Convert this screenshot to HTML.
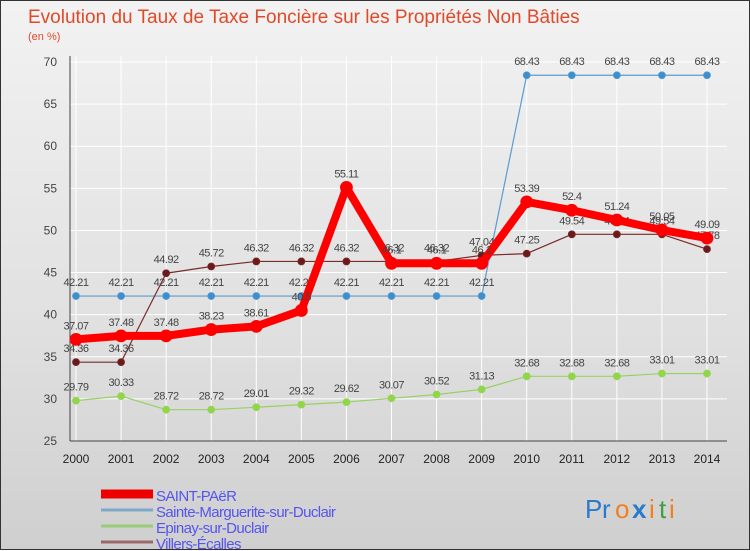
<!DOCTYPE html>
<html><head><meta charset="utf-8">
<style>
body{margin:0;width:750px;height:550px;overflow:hidden;font-family:"Liberation Sans",sans-serif;}
#wrap{position:relative;width:748px;height:548px;border:1px solid #333;background:linear-gradient(#f2f2f2,#e0e0e0 60%,#cfcfcf);}
svg{position:absolute;left:0;top:0}
</style></head><body>
<div id="wrap">
<svg id="chart" width="750" height="550"></svg>
</div>
<script>
const years=[2000,2001,2002,2003,2004,2005,2006,2007,2008,2009,2010,2011,2012,2013,2014];
const yTicks=[25,30,35,40,45,50,55,60,65,70];
const saintPaer=[37.07,37.48,37.48,38.23,38.61,40.5,55.11,46.1,46.1,46.1,53.39,52.4,51.24,50.05,49.09];
const marguerite=[42.21,42.21,42.21,42.21,42.21,42.21,42.21,42.21,42.21,42.21,68.43,68.43,68.43,68.43,68.43];
const epinay=[29.79,30.33,28.72,28.72,29.01,29.32,29.62,30.07,30.52,31.13,32.68,32.68,32.68,33.01,33.01];
const villers=[34.36,34.36,44.92,45.72,46.32,46.32,46.32,46.32,46.32,47.04,47.25,49.54,49.54,49.54,47.78];
const seriesNames=["SAINT-PAëR","Sainte-Marguerite-sur-Duclair","Epinay-sur-Duclair","Villers-Écalles"];

const svg=document.getElementById('chart');
const NS='http://www.w3.org/2000/svg';
const x0=75,x1=706,yTop=61,yBot=440,vMin=25,vMax=70;
const X=i=>x0+(x1-x0)*i/(years.length-1);
const Y=v=>yBot-(v-vMin)*(yBot-yTop)/(vMax-vMin);
function mk(t,a,txt){const e=document.createElementNS(NS,t);for(const k in a)e.setAttribute(k,a[k]);if(txt!==undefined)e.textContent=txt;svg.appendChild(e);return e;}

let e;
e=mk('text',{x:27,y:22,'font-size':19,fill:'#e04a2a'},'Evolution du Taux de Taxe Foncière sur les Propriétés Non Bâties');


e=mk('text',{x:27,y:39,'font-size':11,fill:'#e04a2a'},'(en %)');



yTicks.forEach(t=>{
  e=mk('line',{x1:x0-6,x2:x1+20,y1:Y(t),y2:Y(t),stroke:'#fff','stroke-width':1});
  
  
  e=mk('text',{x:56,y:Y(t)+4,'font-size':12,fill:'#444','text-anchor':'end'},t);
  
  
});
years.forEach((yr,i)=>{
  e=mk('line',{x1:X(i),x2:X(i),y1:yTop-6,y2:yBot,stroke:'#fff','stroke-width':1});
  
  
  e=mk('text',{x:X(i),y:yBot+22,'font-size':12,fill:'#222','text-anchor':'middle'},yr);
  
  
});
e=mk('line',{x1:x0-6,x2:x0-6,y1:yTop-6,y2:yBot,stroke:'#444'});


e=mk('line',{x1:x0-6,x2:x1+20,y1:yBot,y2:yBot,stroke:'#444'});



function drawSeries(vals,color,w,r,dot,name){
  const pts=vals.map((v,i)=>X(i)+','+Y(v)).join(' ');
  e=mk('polyline',{points:pts,fill:'none',stroke:color,'stroke-width':w,'stroke-linejoin':'round'});
  
  
  vals.forEach((v,i)=>{
    e=mk('circle',{cx:X(i),cy:Y(v),r:r,fill:dot,stroke:color,'stroke-width':0.8});
    
    
    e=mk('text',{x:X(i),y:Y(v)-10,'font-size':11,fill:'#444','text-anchor':'middle','letter-spacing':'-0.5'},String(v));
    
    
  });
}
drawSeries(epinay,'#99d066',1.2,3.5,'#8fd840','epinay');
drawSeries(marguerite,'#5b9bcf',1.2,3.5,'#3a8fcf','marguerite');
drawSeries(villers,'#7a2a2a',1.2,3.5,'#6a1a1a','villers');
drawSeries(saintPaer,'#ff0000',8,6,'#ff0000','saint-paer');

const legColors=['#ee0000','#7fa8cc','#99cc77','#9a6a6a'];
const legW=[9,3,3,3];
seriesNames.forEach((n,i)=>{
  const ly=493+i*16;
  e=mk('line',{x1:100,x2:152,y1:ly,y2:ly,stroke:legColors[i],'stroke-width':legW[i]});
  
  
  e=mk('text',{x:155,y:ly+7,'font-size':15,fill:'#5555ee','letter-spacing':'-0.6'},n);
  
  
});
const logo=[['P','#2a7acc'],['r','#2a7acc'],['o','#f08020'],['x','#2a7acc'],['i','#f08020'],['t','#40a040'],['i','#f08020']];
let lx=584;
logo.forEach(([c,col],i)=>{
  e=mk('text',{x:lx,y:517,'font-size':26,'font-weight':i==3?'bold':'normal',fill:col},c);
  
  
  lx+= (c=='i'||c=='t')?10:(c=='r'?13:17);
});
</script>
</body></html>
